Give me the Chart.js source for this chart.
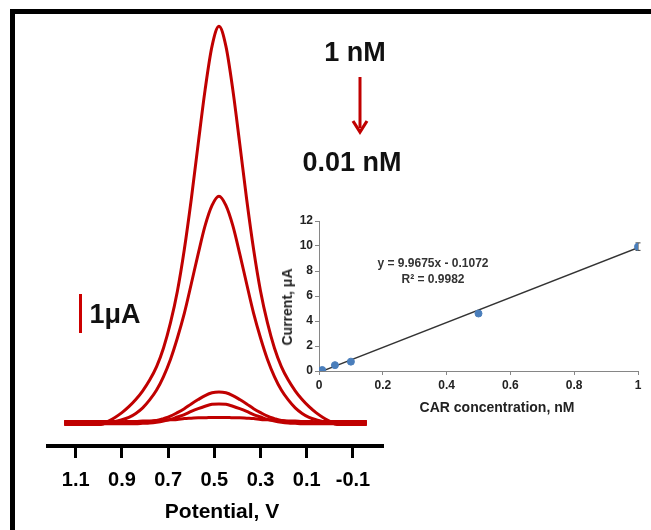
<!DOCTYPE html>
<html>
<head>
<meta charset="utf-8">
<script src="https://cdn.jsdelivr.net/npm/chart.js@4.4.1/dist/chart.umd.min.js"></script>
<style>
html, body { margin: 0; padding: 0; background: #fff; }
body { width: 651px; height: 530px; position: relative; overflow: hidden; font-family: "Liberation Sans", Arial, sans-serif; }
#frame { position: absolute; left: 10px; top: 9px; width: 700px; height: 600px; border-left: 5px solid #000; border-top: 5px solid #000; }
#main { position: absolute; left: 0; top: 0; }
#inset { position: absolute; left: 268px; top: 200px; }
.lbl { position: absolute; font-weight: bold; color: #111; white-space: nowrap; transform: translate(-50%, -50%); line-height: 1; }
#bar { position: absolute; left: 79px; top: 294px; width: 3px; height: 39px; background: #cc0000; }
#arrow { position: absolute; left: 350px; top: 76px; }
</style>
</head>
<body>
<div id="frame"></div>
<canvas id="main" width="651" height="530"></canvas>
<canvas id="inset" width="383" height="225"></canvas>

<div class="lbl" style="left:355px; top:52px; font-size:27px;">1 nM</div>
<svg id="arrow" width="20" height="60">
  <line x1="10" y1="1" x2="10" y2="52" stroke="#c00000" stroke-width="3"/>
  <polyline points="3,45 10,56 17,45" fill="none" stroke="#c00000" stroke-width="3.2"/>
</svg>
<div class="lbl" style="left:352px; top:162px; font-size:27px;">0.01 nM</div>
<div id="bar"></div>
<div class="lbl" style="left:115px; top:314px; font-size:27px;">1μA</div>
<div class="lbl" style="left:222px; top:510px; font-size:21px; color:#000;">Potential, V</div>

<div class="lbl" id="eq1" style="left:433px; top:263px; font-size:12px; color:#333;"></div>
<div class="lbl" id="eq2" style="left:433px; top:279px; font-size:12px; color:#333;"></div>
<div class="lbl" style="left:287px; top:307px; font-size:14px; color:#222; transform:translate(-50%,-50%) rotate(-90deg);">Current, μA</div>
<div class="lbl" style="left:497px; top:407px; font-size:14px; color:#222;">CAR concentration, nM</div>

<script>
// DPV curves (current in µA vs potential in V)
const potentials = [1.15, 1.11, 1.08, 1.05, 1.02, 0.99, 0.96, 0.93, 0.90, 0.87, 0.84, 0.81, 0.78, 0.75, 0.72,
  0.69, 0.66, 0.63, 0.60, 0.57, 0.54, 0.51, 0.48, 0.45, 0.42, 0.39, 0.36, 0.33, 0.30, 0.27, 0.24, 0.21,
  0.18, 0.15, 0.12, 0.09, 0.06, 0.03, 0.00, -0.03, -0.06, -0.09, -0.12, -0.16];
const cur1nM = [-0.04, -0.04, -0.04, -0.04, -0.04, -0.04, 0.04, 0.14, 0.26, 0.41, 0.59, 0.81, 1.08, 1.42, 1.89,
  2.52, 3.32, 4.37, 5.63, 7.03, 8.39, 9.49, 9.99, 9.49, 8.39, 7.03, 5.63, 4.37, 3.32, 2.52, 1.89, 1.42,
  1.08, 0.81, 0.59, 0.41, 0.26, 0.14, 0.04, -0.04, -0.04, -0.04, -0.04, -0.04];
const cur05nM = [0.04, 0.04, 0.04, 0.04, 0.04, 0.04, 0.04, 0.04, 0.08, 0.14, 0.24, 0.38, 0.58, 0.83, 1.17,
  1.60, 2.14, 2.76, 3.50, 4.26, 4.97, 5.48, 5.71, 5.48, 4.97, 4.26, 3.50, 2.76, 2.14, 1.60, 1.17, 0.83,
  0.58, 0.38, 0.24, 0.14, 0.08, 0.04, 0.04, 0.04, 0.04, 0.04, 0.04, 0.04];
const cur01nM = [0, 0, 0, 0, 0, 0, 0, 0, 0, 0, 0.01, 0.02, 0.04, 0.06, 0.11,
  0.17, 0.26, 0.36, 0.48, 0.59, 0.69, 0.76, 0.78, 0.76, 0.69, 0.59, 0.48, 0.36, 0.26, 0.17, 0.11, 0.06,
  0.04, 0.02, 0.01, 0, 0, 0, 0, 0, 0, 0, 0, 0];
const cur005nM = [-0.02, -0.02, -0.02, -0.02, -0.02, -0.02, -0.02, -0.02, -0.02, -0.02, -0.02, -0.01, 0.00, 0.02, 0.05,
  0.09, 0.15, 0.21, 0.29, 0.36, 0.42, 0.47, 0.48, 0.47, 0.42, 0.36, 0.29, 0.21, 0.15, 0.09, 0.05, 0.02,
  0.00, -0.01, -0.02, -0.02, -0.02, -0.02, -0.02, -0.02, -0.02, -0.02, -0.02, -0.02];
const cur001nM = [0.03, 0.03, 0.03, 0.03, 0.03, 0.03, 0.03, 0.03, 0.03, 0.04, 0.04, 0.05, 0.05, 0.06, 0.07,
  0.08, 0.09, 0.11, 0.12, 0.13, 0.13, 0.14, 0.14, 0.14, 0.13, 0.13, 0.12, 0.11, 0.09, 0.08, 0.07, 0.06,
  0.05, 0.05, 0.04, 0.04, 0.03, 0.03, 0.03, 0.03, 0.03, 0.03, 0.03, 0.03];
const potentialTicks = [1.1, 0.9, 0.7, 0.5, 0.3, 0.1, -0.1];
const potentialTickLabels = ['1.1', '0.9', '0.7', '0.5', '0.3', '0.1', '-0.1'];

// calibration inset
const concentrations = [0.01, 0.05, 0.1, 0.5, 1];
const peakCurrents = [0.08, 0.47, 0.75, 4.6, 9.95];
const currentErrors = [0.05, 0.05, 0.05, 0.1, 0.3];
const fitSlope = 9.9675;
const fitIntercept = -0.1072;
const rSquared = 0.9982;
const concTicks = [0, 0.2, 0.4, 0.6, 0.8, 1];
const currentTicks = [0, 2, 4, 6, 8, 10, 12];

const FONT = '"Liberation Sans", Arial, sans-serif';
Chart.defaults.font.family = FONT;

document.getElementById('eq1').textContent = 'y = ' + fitSlope + 'x - ' + Math.abs(fitIntercept);
document.getElementById('eq2').textContent = 'R² = ' + rSquared;

const curves = [cur1nM, cur05nM, cur01nM, cur005nM, cur001nM];

new Chart(document.getElementById('main'), {
  type: 'line',
  data: {
    datasets: curves.map(c => ({
      data: potentials.map((p, i) => ({ x: p, y: c[i] })),
      borderColor: '#c00000',
      borderWidth: 3,
      pointRadius: 0,
      fill: false,
      cubicInterpolationMode: 'monotone'
    }))
  },
  options: {
    responsive: false,
    animation: false,
    layout: { padding: { left: 48, right: 268, top: 18, bottom: 0 } },
    plugins: { legend: { display: false }, tooltip: { enabled: false } },
    scales: {
      x: {
        type: 'linear',
        reverse: true,
        min: -0.23,
        max: 1.22,
        afterBuildTicks: s => { s.ticks = potentialTicks.map(v => ({ value: v })); },
        afterFit: s => { s.height = 84; },
        border: { display: true, color: '#000', width: 4 },
        grid: { drawOnChartArea: false, drawTicks: true, tickLength: 12, tickWidth: 3, tickColor: '#000' },
        ticks: {
          color: '#000',
          padding: 10,
          maxRotation: 0,
          font: { size: 20, weight: 'bold' },
          callback: (v, i) => potentialTickLabels[i]
        }
      },
      y: { display: false, min: -0.58, max: 10.2 }
    }
  }
});

const errorBars = {
  id: 'errorBars',
  beforeDatasetsDraw(chart) {
    const meta = chart.getDatasetMeta(0);
    const y = chart.scales.y;
    const ctx = chart.ctx;
    ctx.save();
    ctx.strokeStyle = '#404040';
    ctx.lineWidth = 1;
    meta.data.forEach((pt, i) => {
      const top = y.getPixelForValue(peakCurrents[i] + currentErrors[i]);
      const bot = y.getPixelForValue(peakCurrents[i] - currentErrors[i]);
      ctx.beginPath();
      ctx.moveTo(pt.x, top); ctx.lineTo(pt.x, bot);
      ctx.moveTo(pt.x - 2.5, top); ctx.lineTo(pt.x + 2.5, top);
      ctx.moveTo(pt.x - 2.5, bot); ctx.lineTo(pt.x + 2.5, bot);
      ctx.stroke();
    });
    ctx.restore();
  }
};

const fitX = [concentrations[0], concentrations[concentrations.length - 1]];

new Chart(document.getElementById('inset'), {
  type: 'scatter',
  data: {
    datasets: [
      {
        data: concentrations.map((c, i) => ({ x: c, y: peakCurrents[i] })),
        backgroundColor: '#4a7ebb',
        borderColor: '#4a7ebb',
        pointRadius: 3.5,
        showLine: false
      },
      {
        type: 'line',
        data: fitX.map(x => ({ x: x, y: fitSlope * x + fitIntercept })),
        borderColor: '#333',
        borderWidth: 1.5,
        pointRadius: 0,
        fill: false
      }
    ]
  },
  options: {
    responsive: false,
    animation: false,
    layout: { padding: { left: 0, right: 13, top: 21, bottom: 0 } },
    plugins: { legend: { display: false }, tooltip: { enabled: false } },
    scales: {
      x: {
        type: 'linear',
        min: 0,
        max: 1,
        afterBuildTicks: s => { s.ticks = concTicks.map(v => ({ value: v })); },
        afterFit: s => { s.height = 54; },
        border: { color: '#868686', width: 1 },
        grid: { drawOnChartArea: false, tickLength: 4, color: '#868686' },
        ticks: { color: '#222', padding: 3, maxRotation: 0, font: { size: 12, weight: 'bold' }, callback: v => String(v) }
      },
      y: {
        type: 'linear',
        min: 0,
        max: 12,
        afterBuildTicks: s => { s.ticks = currentTicks.map(v => ({ value: v })); },
        afterFit: s => { s.width = 51; },
        border: { color: '#868686', width: 1 },
        grid: { drawOnChartArea: false, tickLength: 4, color: '#868686' },
        ticks: { color: '#222', padding: 2, font: { size: 12, weight: 'bold' }, callback: v => String(v) }
      }
    }
  },
  plugins: [errorBars]
});
</script>
</body>
</html>
